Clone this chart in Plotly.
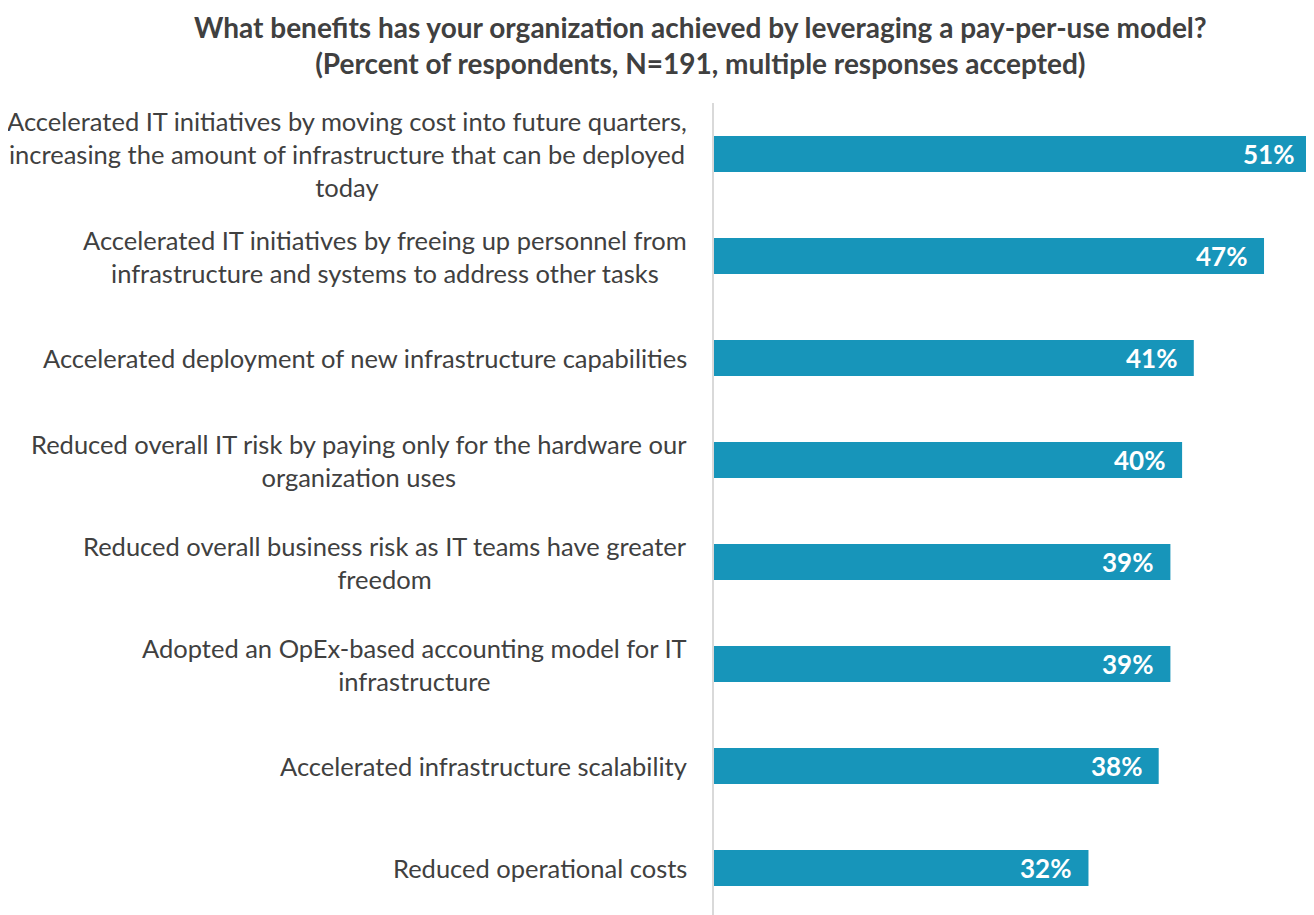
import plotly.graph_objects as go

categories = [
    "Accelerated IT initiatives by moving cost into future quarters,<br>increasing the amount of infrastructure that can be deployed<br>today",
    "Accelerated IT initiatives by freeing up personnel from<br>infrastructure and systems to address other tasks",
    "Accelerated deployment of new infrastructure capabilities",
    "Reduced overall IT risk by paying only for the hardware our<br>organization uses",
    "Reduced overall business risk as IT teams have greater<br>freedom",
    "Adopted an OpEx-based accounting model for IT<br>infrastructure",
    "Accelerated infrastructure scalability",
    "Reduced operational costs",
]
values = [51, 47, 41, 40, 39, 39, 38, 32]
value_labels = ["51%", "47%", "41%", "40%", "39%", "39%", "38%", "32%"]

title_text = ("What benefits has your organization achieved by leveraging a pay-per-use model?<br>"
              "(Percent of respondents, N=191, multiple responses accepted)")

FONT = "Lato"
TEXT = "#404040"
BAR = "#1795BA"

W, H = 1314, 915
ML, MR, MT, MB = 706, 10, 95, 4
PW, PH = W - ML - MR, H - MT - MB

ids = list(range(len(categories)))

fig = go.Figure()
fig.add_trace(go.Bar(
    x=values, y=ids, orientation="h",
    marker=dict(color=BAR, line=dict(width=0)),
    width=0.355, hoverinfo="skip",
))

for i, (cat, v, lab) in enumerate(zip(categories, values, value_labels)):
    fig.add_annotation(x=0, xref="paper", y=i, yref="y", text=cat,
                       xanchor="right", yanchor="middle", align="center",
                       xshift=-25, showarrow=False,
                       font=dict(family=FONT, size=25.5, color=TEXT))
    fig.add_annotation(x=v, xref="x", y=i, yref="y", text="<b>" + lab + "</b>",
                       xanchor="right", yanchor="middle", xshift=-15,
                       showarrow=False,
                       font=dict(family=FONT, size=26, color="white"))

fig.add_annotation(x=(692 - ML) / PW, xref="paper", y=1 + MT / PH, yref="paper",
                   text="<b>" + title_text + "</b>", xanchor="center",
                   yanchor="top", align="center", showarrow=False,
                   font=dict(family=FONT, size=28, color=TEXT))

fig.update_layout(
    width=W, height=H,
    margin=dict(l=ML, r=MR, t=MT, b=MB),
    paper_bgcolor="white", plot_bgcolor="white",
    showlegend=False,
    xaxis=dict(range=[0, 51.1], visible=False, fixedrange=True),
    yaxis=dict(range=[len(categories) - 0.5, -0.5], showticklabels=False,
               showgrid=False, zeroline=False, showline=True,
               linecolor="#d9d9d9", linewidth=1.5, ticks="", fixedrange=True),
)

fig.write_html("out.html")
